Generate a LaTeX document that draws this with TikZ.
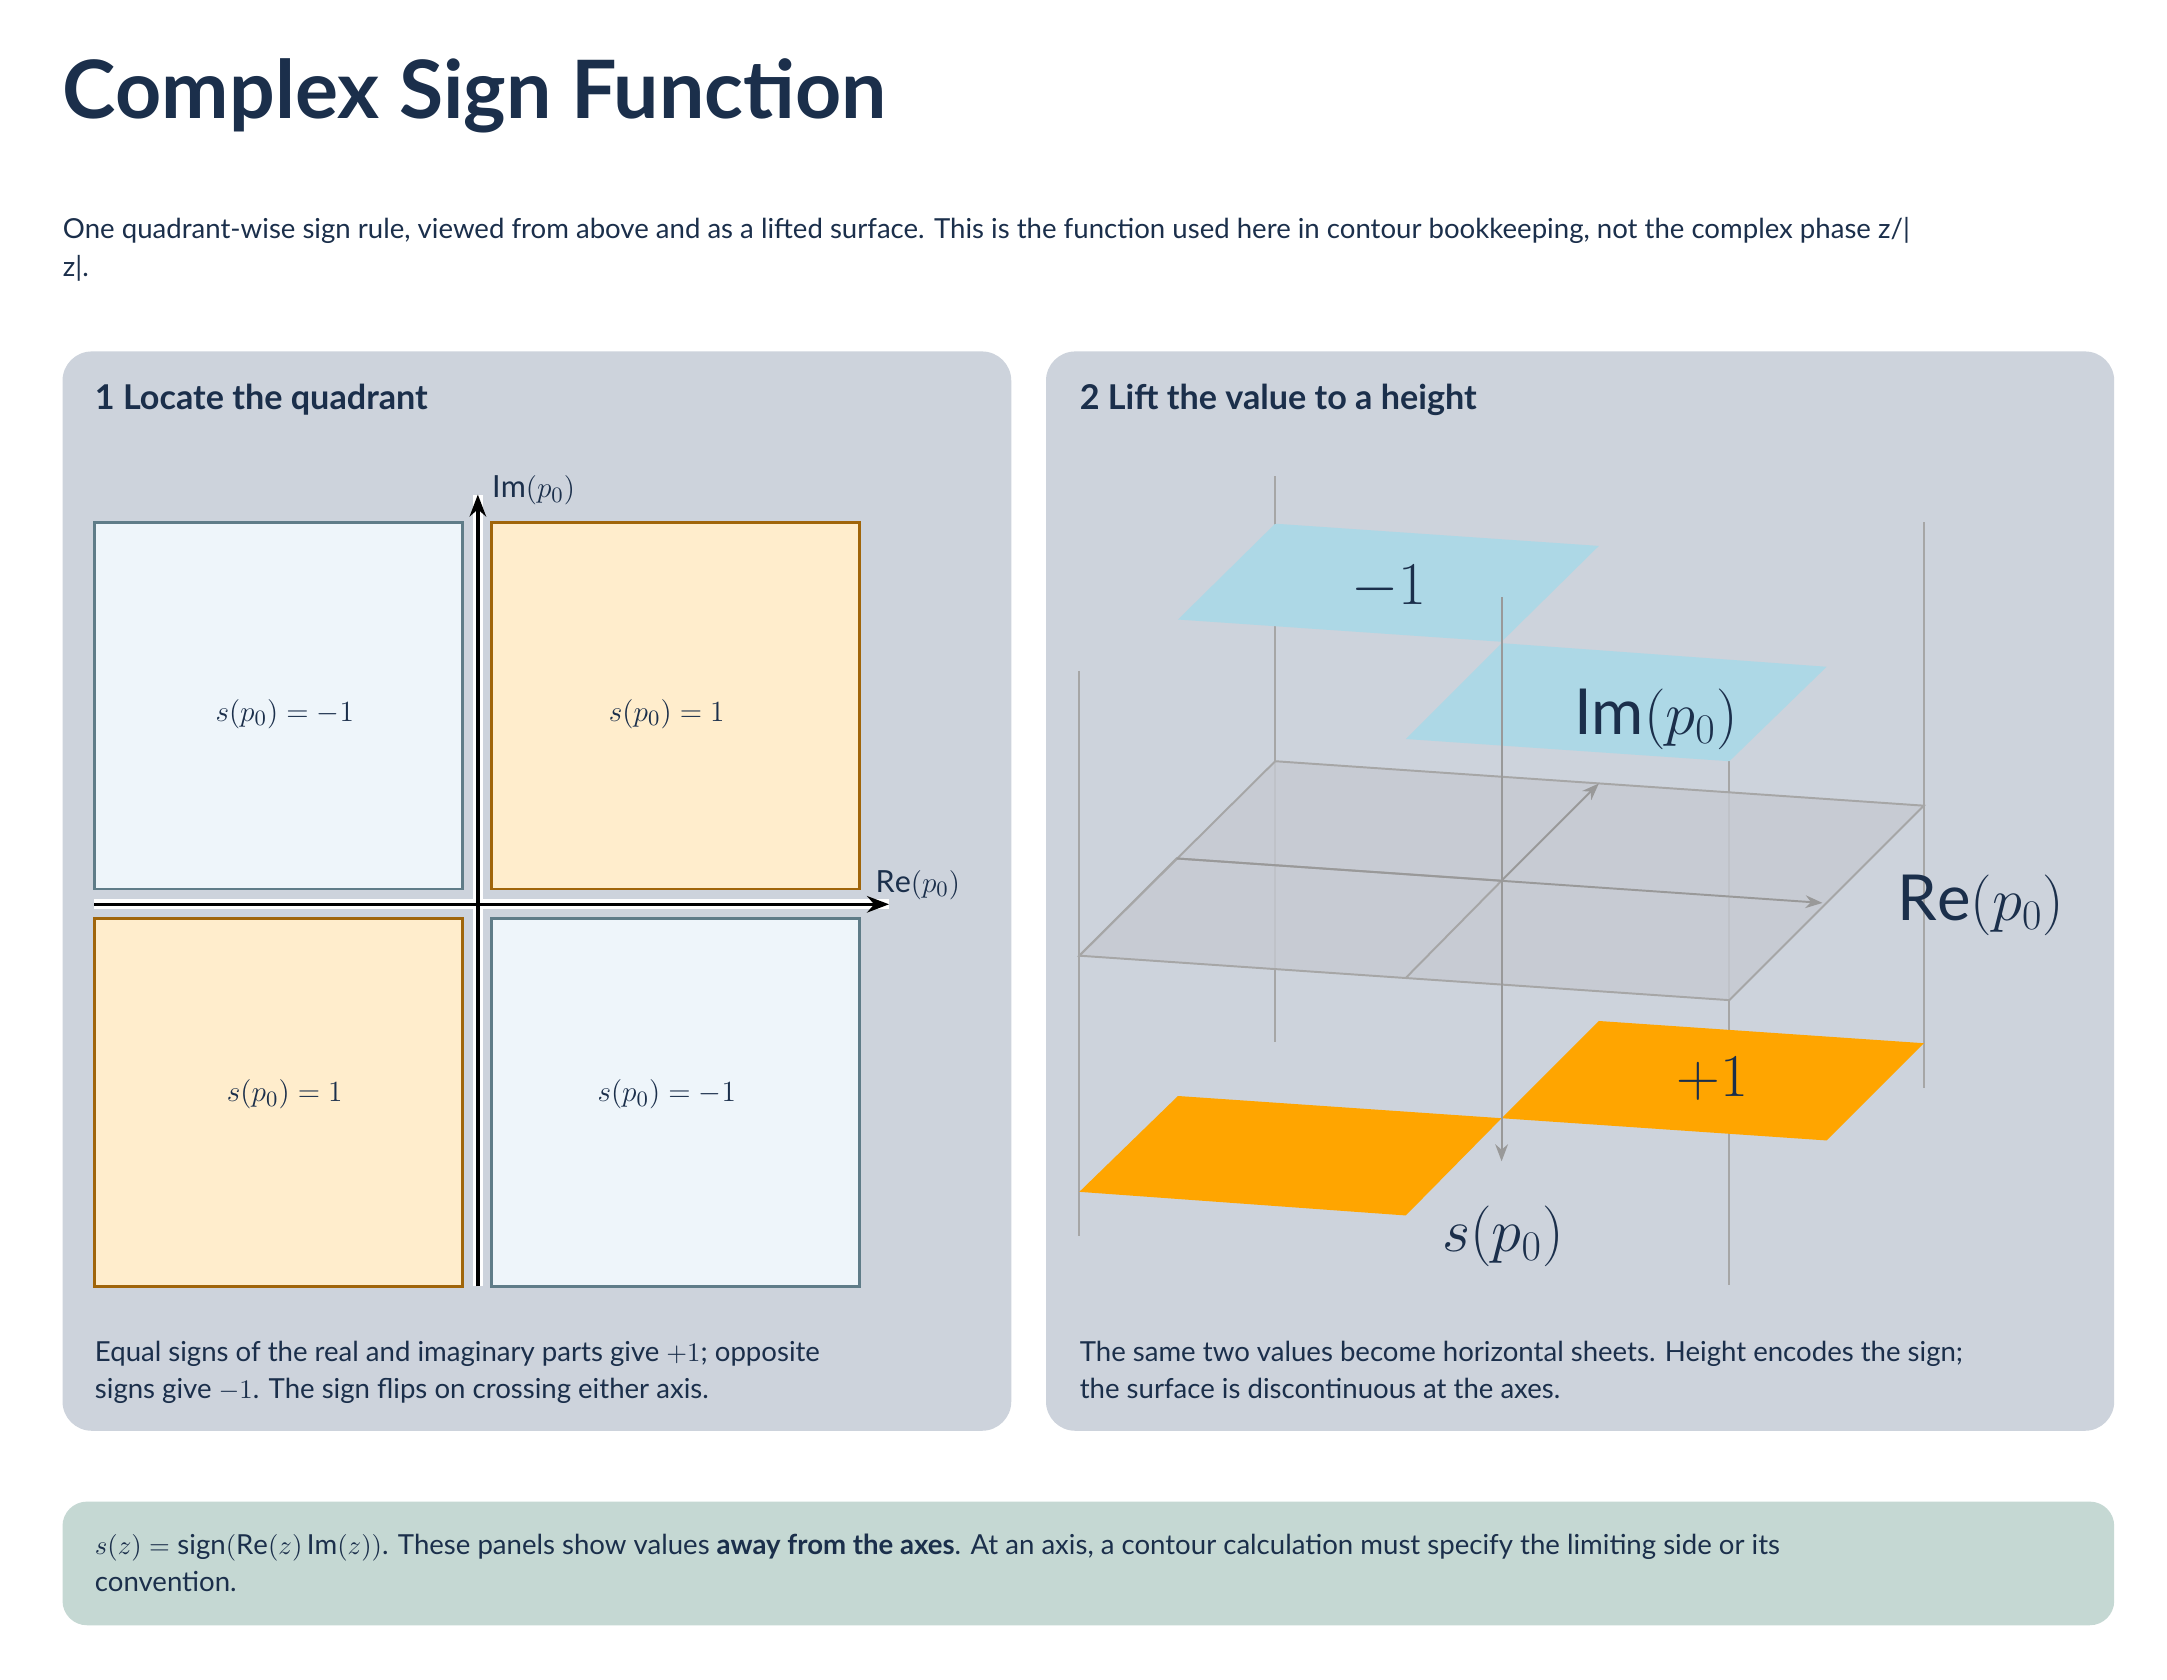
\documentclass[tikz,border=0pt]{standalone}
\usepackage{fontspec}
\setmainfont{Lato}
\usetikzlibrary{arrows.meta}
\definecolor{navy}{HTML}{1B2F4B}
\definecolor{panel}{HTML}{CDD3DC}
\definecolor{note}{HTML}{C5D8D3}
\definecolor{qblue}{HTML}{EEF5FA}
\definecolor{qbluel}{HTML}{5F7C88}
\definecolor{qor}{HTML}{FFEDCC}
\definecolor{qorl}{HTML}{A0650A}
\definecolor{sheetb}{HTML}{ADD8E6}
\definecolor{sheeto}{HTML}{FFA500}
\definecolor{plane}{HTML}{C6CAD1}
\begin{document}
\begin{tikzpicture}[x=0.02cm,y=-0.02cm,
  txt/.style={anchor=base west,inner sep=0,text=navy,font=\fontsize{11.3pt}{14pt}\selectfont},
  head/.style={anchor=base west,inner sep=0,text=navy,font=\fontsize{14pt}{17pt}\selectfont\bfseries},
  qb/.style={draw=qbluel,fill=qblue,line width=1.2pt},
  qo/.style={draw=qorl,fill=qor,line width=1.2pt},
  ml/.style={text=navy,font=\fontsize{12.5pt}{15pt}\selectfont},
  bl/.style={text=navy,font=\fontsize{26pt}{30pt}\selectfont},
  gl/.style={draw=gray!70,line width=0.8pt},
  ax/.style={line width=1.4pt,-{Stealth[length=9pt]}}]
\useasboundingbox (0,0) rectangle (1560,1209);
\fill[white] (0,0) rectangle (1560,1209);
\node[anchor=base west,inner sep=0,text=navy,font=\fontsize{33pt}{38pt}\selectfont\bfseries] (title) at (45,85) {Complex Sign Function};
\node[txt] (s1) at (45,172) {One quadrant-wise sign rule, viewed from above and as a lifted surface. This is the function used here in contour bookkeeping, not the complex phase z/|};
\node[txt] (s2) at (45,199) {z|.};
% panels
\fill[panel,rounded corners=12pt] (45,253) rectangle (728,1030);
\fill[panel,rounded corners=12pt] (753,253) rectangle (1522,1030);
\fill[note,rounded corners=10pt] (45,1081) rectangle (1522,1170);
\node[head] (h1) at (68,295) {1 Locate the quadrant};
\node[head] (h2) at (777,295) {2 Lift the value to a height};
% quadrants
\draw[qb] (68,376) rectangle (333,640);
\draw[qo] (354,376) rectangle (619,640);
\draw[qo] (68,661) rectangle (333,926);
\draw[qb] (354,661) rectangle (619,926);
\node[ml] (q1) at (205,514) {$s(p_0)=-1$};
\node[ml] (q2) at (480,514) {$s(p_0)=1$};
\node[ml] (q3) at (205,788) {$s(p_0)=1$};
\node[ml] (q4) at (480,788) {$s(p_0)=-1$};
\coordinate (hx0) at (68,651); \coordinate (hx1) at (640,651);
\coordinate (vy0) at (344,926); \coordinate (vy1) at (344,356);
\draw[white,line width=4pt] (hx0)--(hx1) (vy0)--(vy1);
\draw[ax] (hx0)--(hx1);
\draw[ax] (vy0)--(vy1);
\node[ml,anchor=west,inner sep=0] (lim) at (354,353) {$\mathrm{Im}(p_0)$};
\node[ml,anchor=west,inner sep=0] (lre) at (630,637) {$\mathrm{Re}(p_0)$};
\node[txt] (c1) at (68,980) {Equal signs of the real and imaginary parts give $+1$; opposite};
\node[txt] (c2) at (68,1007) {signs give $-1$. The sign flips on crossing either axis.};
% 3D
\draw[gl] (918,343)--(918,750);
\draw[gl] (777,483)--(777,890);
\draw[gl] (1245,545)--(1245,925);
\draw[gl] (1385,376)--(1385,783);
\draw[gl,fill=plane,fill opacity=0.8] (777,688)--(918,548)--(1385,580)--(1245,720)--cycle;
\draw[gl] (1012,704)--(1081,634);
\draw[gl] (777,688)--(847,618)--(1081,634);
\draw[gl,-{Stealth[length=7pt]},draw=gray!80] (847,618)--(1312,650);
\draw[gl,-{Stealth[length=7pt]},draw=gray!80] (1081,634)--(1151,564);
\fill[sheetb] (848,446)--(918,377)--(1151,393)--(1081,462)--cycle;
\fill[sheetb] (1012,532)--(1081,463)--(1315,480)--(1245,548)--cycle;
\draw[gl] (918,343)--(918,377);
\fill[sheeto] (777,858)--(848,789)--(1081,805)--(1012,875)--cycle;
\fill[sheeto] (1081,805)--(1151,735)--(1385,751)--(1315,821)--cycle;
\draw[gl,-{Stealth[length=7pt]},draw=gray!80] (1081,430)--(1081,836);
\node[bl] (m1) at (1000,423) {$-1$};
\node[bl] (lim3) at (1192,518) {$\mathrm{Im}(p_0)$};
\node[bl] (lre3) at (1426,652) {$\mathrm{Re}(p_0)$};
\node[bl] (p1) at (1233,777) {$+1$};
\node[bl] (ls) at (1082,890) {$s(p_0)$};
\node[txt] (c3) at (777,980) {The same two values become horizontal sheets. Height encodes the sign;};
\node[txt] (c4) at (777,1007) {the surface is discontinuous at the axes.};
\node[txt] (n1) at (68,1119) {$s(z)=\mathrm{sign}(\mathrm{Re}(z)\,\mathrm{Im}(z))$. These panels show values \textbf{away from the axes}. At an axis, a contour calculation must specify the limiting side or its};
\node[txt] (n2) at (68,1146) {convention.};
\end{tikzpicture}
\end{document}
